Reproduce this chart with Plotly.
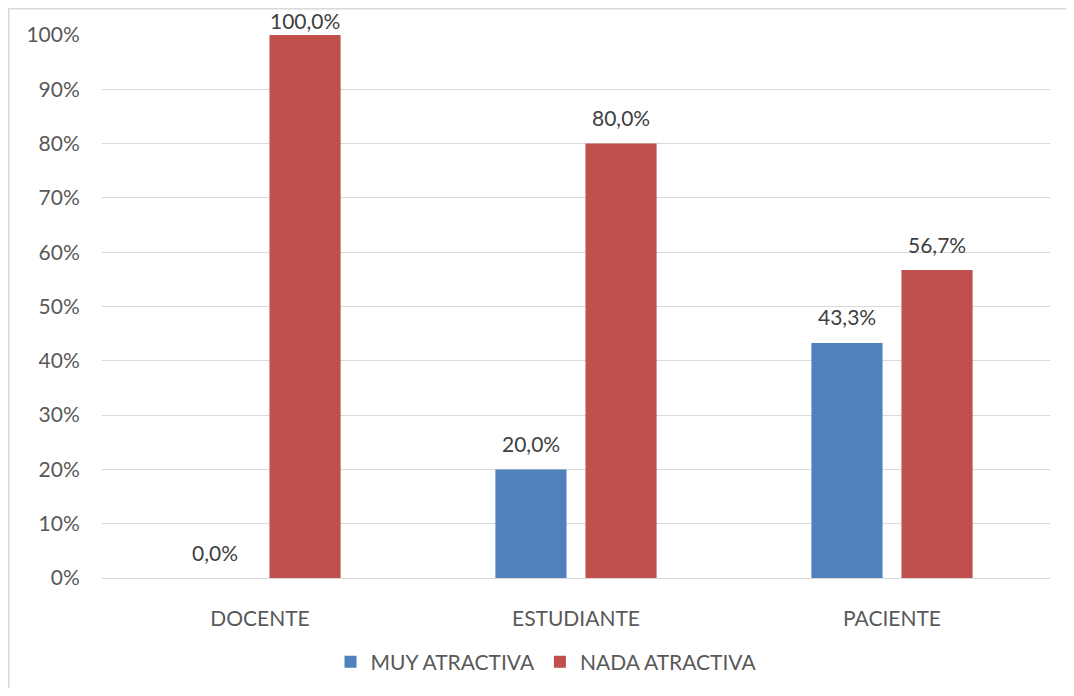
import plotly.graph_objects as go

categories = ["DOCENTE", "ESTUDIANTE", "PACIENTE"]
muy_atractiva = [0.0, 0.200, 0.433]
nada_atractiva = [1.000, 0.800, 0.567]
y_ticks = [0, 0.1, 0.2, 0.3, 0.4, 0.5, 0.6, 0.7, 0.8, 0.9, 1.0]
y_tick_labels = ["0%", "10%", "20%", "30%", "40%", "50%", "60%", "70%", "80%", "90%", "100%"]

def fmt(v):
    return f"{v*100:.1f}%".replace(".", ",")

FONT = "Lato, Open Sans, sans-serif"
FS = 21

# page body has an 8px margin; figure coordinates = page coordinates - 8
OFF = 8
W, H = 1074 - 2 * OFF, 696 - 2 * OFF
L, T = 102 - OFF, 35 - OFF
R = W - (1050 - OFF)
B = H - (578 - OFF)
pw, ph = W - L - R, H - T - B

def px_x(p):
    return (p - OFF - L) / pw

def px_y(p):
    return (H - B - (p - OFF)) / ph

fig = go.Figure()
fig.add_trace(go.Bar(
    name="MUY ATRACTIVA", x=categories, y=muy_atractiva,
    marker=dict(color="#4F81BD", line=dict(width=0)),
))
fig.add_trace(go.Bar(
    name="NADA ATRACTIVA", x=categories, y=nada_atractiva,
    marker=dict(color="#C0504D", line=dict(width=0)),
))

annotations = []
for series, xs in ((muy_atractiva, -45), (nada_atractiva, 45)):
    for cat, v in zip(categories, series):
        annotations.append(dict(
            x=cat, y=v, xref="x", yref="y", text=fmt(v), showarrow=False,
            xshift=xs, yshift=(26 if v < 0.98 else 15), yanchor="middle", xanchor="center",
            font=dict(family=FONT, size=FS, color="#404040"),
        ))

fig.update_layout(
    width=W, height=H,
    margin=dict(l=L, r=R, t=T, b=B, autoexpand=False),
    plot_bgcolor="white", paper_bgcolor="white",
    barmode="group", bargap=0.43, bargroupgap=0.21,
    font=dict(family=FONT, size=FS, color="#595959"),
    showlegend=True,
    legend=dict(orientation="h", x=px_x(546), xanchor="center", y=px_y(662), yanchor="middle",
                font=dict(size=FS, color="#595959"), itemwidth=30, traceorder="normal"),
    xaxis=dict(showgrid=False, showline=True, linecolor="#D9D9D9", linewidth=1,
               automargin=False,
               ticks="outside", ticklen=22, tickcolor="rgba(0,0,0,0)",
               tickfont=dict(size=FS, color="#595959")),
    yaxis=dict(range=[0, 1], tickvals=y_ticks, ticktext=y_tick_labels,
               automargin=False,
               showgrid=True, gridcolor="#D9D9D9", gridwidth=1, zeroline=False,
               showline=False, ticks="outside", ticklen=17, tickcolor="rgba(0,0,0,0)",
               tickfont=dict(size=FS, color="#595959")),
    annotations=annotations,
    shapes=[
        dict(type="line", xref="paper", yref="paper", x0=px_x(8), x1=px_x(1090),
             y0=px_y(8.75), y1=px_y(8.75), line=dict(color="#D9D9D9", width=1.5)),
        dict(type="line", xref="paper", yref="paper", x0=px_x(8.75), x1=px_x(8.75),
             y0=px_y(8), y1=px_y(710), line=dict(color="#D9D9D9", width=1.5)),
    ],
)

fig.write_html("out.html")
